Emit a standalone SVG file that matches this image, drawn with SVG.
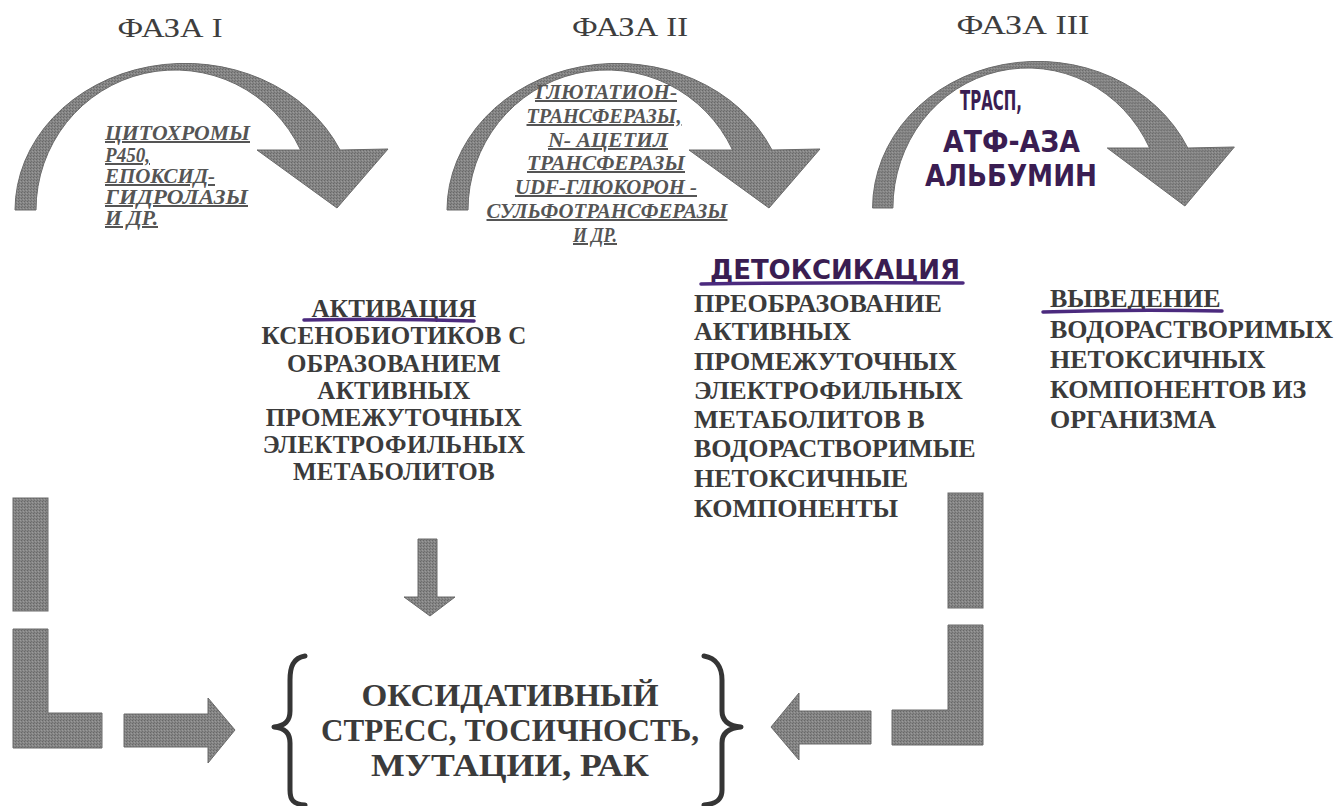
<svg xmlns="http://www.w3.org/2000/svg" width="1339" height="806" viewBox="0 0 1339 806">
<defs>
<pattern id="grain" width="3" height="3" patternUnits="userSpaceOnUse">
<rect width="3" height="3" fill="#858585"/>
<rect x="0" y="0" width="1" height="1" fill="#676767"/>
<rect x="2" y="1" width="1" height="1" fill="#9a9a9a"/>
<rect x="1" y="2" width="1" height="1" fill="#707070"/>
</pattern>
<path id="arc" d="M15,210 A170,147 0 0 1 340,150 L388,149 L337,208 L257,150 L300.6,150 A139,140 0 0 0 36,210 Z"/>
<style>
.shape{fill:url(#grain);stroke:#6a6a6a;stroke-width:1}
.title{font-family:"Liberation Serif","Times New Roman",serif;font-size:27px;fill:#3e3e3e}
.enz{font-family:"Liberation Serif","Times New Roman",serif;font-size:20px;font-weight:bold;font-style:italic;fill:#555;text-decoration:underline}
.main{font-family:"Liberation Serif","Times New Roman",serif;font-size:26px;font-weight:bold;fill:#3b3b3b}
.act{font-size:25px;letter-spacing:0.3px}
.big{font-family:"Liberation Serif","Times New Roman",serif;font-size:31px;font-weight:bold;fill:#3b3b3b}
.hand{font-family:"DejaVu Sans","Liberation Sans",sans-serif;font-weight:bold;fill:#3a1d52}
.pen{fill:none;stroke:#4b2a7e;stroke-width:3.5;stroke-linecap:round}
.brace{fill:none;stroke:#353535;stroke-width:5;stroke-linejoin:round;stroke-linecap:round}
</style>
</defs>
<rect width="1339" height="806" fill="#ffffff"/>

<g id="phase1">
<text class="title" x="170" y="37" text-anchor="middle" textLength="105" lengthAdjust="spacingAndGlyphs">ФАЗА I</text>
<use href="#arc" class="shape"/>
<text class="enz" x="105" y="140" textLength="145" lengthAdjust="spacingAndGlyphs">ЦИТОХРОМЫ</text>
<text class="enz" x="105" y="162" textLength="45" lengthAdjust="spacingAndGlyphs">P450,</text>
<text class="enz" x="105" y="183" textLength="110" lengthAdjust="spacingAndGlyphs">ЕПОКСИД-</text>
<text class="enz" x="105" y="204" textLength="143" lengthAdjust="spacingAndGlyphs">ГИДРОЛАЗЫ</text>
<text class="enz" x="105" y="225" textLength="53" lengthAdjust="spacingAndGlyphs">И ДР.</text>
</g>

<g id="phase2">
<text class="title" x="630" y="36" text-anchor="middle" textLength="116" lengthAdjust="spacingAndGlyphs">ФАЗА II</text>
<use href="#arc" class="shape" transform="translate(432,0)"/>
<text class="enz" x="606" y="99" text-anchor="middle" textLength="142" lengthAdjust="spacingAndGlyphs">ГЛЮТАТИОН-</text>
<text class="enz" x="604" y="123" text-anchor="middle" textLength="155" lengthAdjust="spacingAndGlyphs">ТРАНСФЕРАЗЫ,</text>
<text class="enz" x="608" y="147" text-anchor="middle" textLength="120" lengthAdjust="spacingAndGlyphs">N- АЦЕТИЛ</text>
<text class="enz" x="606" y="170" text-anchor="middle" textLength="158" lengthAdjust="spacingAndGlyphs">ТРАНСФЕРАЗЫ</text>
<text class="enz" x="606" y="194" text-anchor="middle" textLength="182" lengthAdjust="spacingAndGlyphs">UDF-ГЛЮКОРОН -</text>
<text class="enz" x="607" y="218" text-anchor="middle" textLength="241" lengthAdjust="spacingAndGlyphs">СУЛЬФОТРАНСФЕРАЗЫ</text>
<text class="enz" x="595" y="242" text-anchor="middle" textLength="44" lengthAdjust="spacingAndGlyphs">И ДР.</text>
</g>

<g id="phase3">
<text class="title" x="1023" y="34" text-anchor="middle" textLength="133" lengthAdjust="spacingAndGlyphs">ФАЗА III</text>
<use href="#arc" class="shape" transform="translate(858,-2) scale(0.97,1)"/>
<text class="hand" x="960" y="110" font-size="26" textLength="62" lengthAdjust="spacingAndGlyphs">ТРАСП,</text>
<text class="hand" x="943" y="152" font-size="30" textLength="137" lengthAdjust="spacingAndGlyphs">АТФ-АЗА</text>
<text class="hand" x="925" y="186" font-size="30" textLength="172" lengthAdjust="spacingAndGlyphs">АЛЬБУМИН</text>
</g>

<g id="activation">
<text class="main act" x="394" y="317" text-anchor="middle">АКТИВАЦИЯ</text>
<path class="pen" d="M304,320 Q390,318 474,321"/>
<text class="main act" x="394" y="344" text-anchor="middle">КСЕНОБИОТИКОВ С</text>
<text class="main act" x="394" y="372" text-anchor="middle">ОБРАЗОВАНИЕМ</text>
<text class="main act" x="394" y="399" text-anchor="middle">АКТИВНЫХ</text>
<text class="main act" x="394" y="426" text-anchor="middle">ПРОМЕЖУТОЧНЫХ</text>
<text class="main act" x="394" y="453" text-anchor="middle">ЭЛЕКТРОФИЛЬНЫХ</text>
<text class="main act" x="394" y="480" text-anchor="middle">МЕТАБОЛИТОВ</text>
</g>

<g id="detoxification">
<text class="hand" x="710" y="279" font-size="27" textLength="250" lengthAdjust="spacingAndGlyphs">ДЕТОКСИКАЦИЯ</text>
<path class="pen" d="M701,284 Q830,282 963,283"/>
<text class="main" x="694" y="312">ПРЕОБРАЗОВАНИЕ</text>
<text class="main" x="694" y="340">АКТИВНЫХ</text>
<text class="main" x="694" y="370">ПРОМЕЖУТОЧНЫХ</text>
<text class="main" x="694" y="399">ЭЛЕКТРОФИЛЬНЫХ</text>
<text class="main" x="694" y="428">МЕТАБОЛИТОВ В</text>
<text class="main" x="694" y="457">ВОДОРАСТВОРИМЫЕ</text>
<text class="main" x="694" y="487">НЕТОКСИЧНЫЕ</text>
<text class="main" x="694" y="517">КОМПОНЕНТЫ</text>
</g>

<g id="excretion">
<text class="main" x="1050" y="307">ВЫВЕДЕНИЕ</text>
<path class="pen" d="M1043,312 Q1130,309 1222,311"/>
<text class="main" x="1050" y="338" textLength="283" lengthAdjust="spacingAndGlyphs">ВОДОРАСТВОРИМЫХ</text>
<text class="main" x="1050" y="368">НЕТОКСИЧНЫХ</text>
<text class="main" x="1050" y="398">КОМПОНЕНТОВ ИЗ</text>
<text class="main" x="1050" y="428">ОРГАНИЗМА</text>
</g>

<g id="outcome">
<path class="brace" d="M305,656 C293,658 290,667 290,680 L290,711 C290,721 285,726 274,727 C285,728 290,733 290,743 L290,790 C290,800 293,804 305,805"/>
<text class="big" x="510" y="706" text-anchor="middle" textLength="297" lengthAdjust="spacingAndGlyphs">ОКСИДАТИВНЫЙ</text>
<text class="big" x="510" y="741" text-anchor="middle" textLength="378" lengthAdjust="spacingAndGlyphs">СТРЕСС, ТОСИЧНОСТЬ,</text>
<text class="big" x="510" y="776" text-anchor="middle" textLength="278" lengthAdjust="spacingAndGlyphs">МУТАЦИИ, РАК</text>
<path class="brace" d="M704,656 C716,658 722,667 722,680 L722,711 C722,721 729,726 741,727 C729,728 722,733 722,743 L722,790 C722,800 716,804 704,805"/>
</g>

<g id="connectors">
<rect class="shape" x="13" y="498" width="35" height="113"/>
<path class="shape" d="M13,629 H48 V713 H102 V748 H13 Z"/>
<path class="shape" d="M124,714 H208 V698 L235,730 L208,763 V747 H124 Z"/>
<path class="shape" d="M418,539 H437 V597 H455 L430,616 L404,597 H418 Z"/>
<rect class="shape" x="948" y="493" width="35" height="115"/>
<path class="shape" d="M948,625 H983 V745 H892 V710 H948 Z"/>
<path class="shape" d="M871,711 V744 H799 V760 L771,727 L799,693 V711 Z"/>
</g>
</svg>
